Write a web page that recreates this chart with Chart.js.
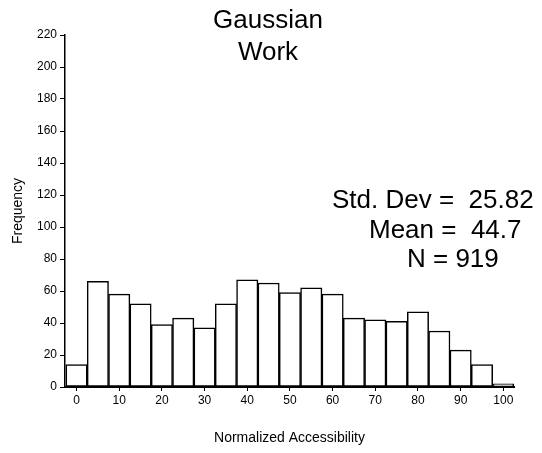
<!DOCTYPE html>
<html>
<head>
<meta charset="utf-8">
<script src="https://cdn.jsdelivr.net/npm/chart.js@4.4.1/dist/chart.umd.min.js"></script>
<style>
  body { margin: 0; background: #fff; }
  #wrap { width: 542px; height: 453px; }
</style>
</head>
<body>
<div id="wrap"><canvas id="histChart" width="542" height="453"></canvas></div>
<script>
// bin centres (width 5) and counts
const binCenters = [0, 5, 10, 15, 20, 25, 30, 35, 40, 45, 50, 55, 60, 65, 70, 75, 80, 85, 90, 95, 100];
const frequencies = [14, 66, 58, 52, 39, 43, 37, 52, 67, 65, 59, 62, 58, 43, 42, 41, 47, 35, 23, 14, 2];
const xTicks = [0, 10, 20, 30, 40, 50, 60, 70, 80, 90, 100];
const titleLines = ['Gaussian', 'Work'];
const statLines = ['Std. Dev =  25.82', 'Mean =  44.7', 'N = 919'];

const FONT = "'Liberation Sans', Arial, sans-serif";

// title and the summary text sit over the plot, SPSS style
const textPlugin = {
    id: 'textPlugin',
    afterDraw(chart) {
        const ctx = chart.ctx;
        ctx.save();
        ctx.fillStyle = '#000';
        ctx.font = '26px ' + FONT;
        ctx.textAlign = 'center';
        ctx.textBaseline = 'alphabetic';
        ctx.fillText(titleLines[0], 268, 28);
        ctx.fillText(titleLines[1], 268, 60);
        ctx.textAlign = 'left';
        ctx.fillText(statLines[0], 332, 208);
        ctx.fillText(statLines[1], 369, 238);
        ctx.fillText(statLines[2], 407, 267);
        ctx.restore();
    }
};

const ctx = document.getElementById('histChart').getContext('2d');
const histChart = new Chart(ctx, {
    type: 'bar',
    data: {
        datasets: [{
            label: 'Frequency',
            data: binCenters.map((c, i) => ({ x: c, y: frequencies[i] })),
            backgroundColor: '#ffffff',
            borderColor: '#000000',
            borderWidth: 1.5,
            borderSkipped: false,
            barPercentage: 1,
            categoryPercentage: 1
        }]
    },
    options: {
        responsive: false,
        animation: false,
        layout: { padding: { top: 35, right: 28, left: 0, bottom: 0 } },
        plugins: {
            legend: { display: false },
            tooltip: { enabled: false }
        },
        scales: {
            x: {
                type: 'linear',
                offset: false,
                min: -2.7,
                max: 102.5,
                afterBuildTicks: (scale) => { scale.ticks = xTicks.map(v => ({ value: v })); },
                afterFit: (scale) => { scale.height = 66; },
                grid: { offset: false, drawOnChartArea: false, drawTicks: true, tickLength: 4, color: '#000', lineWidth: 1 },
                border: { display: true, color: '#000', width: 2 },
                ticks: { color: '#000', font: { family: FONT, size: 12 }, padding: 2, maxRotation: 0 },
                title: {
                    display: true,
                    text: 'Normalized Accessibility',
                    color: '#000',
                    font: { family: FONT, size: 14 },
                    padding: { top: 0, bottom: 6.6 }
                }
            },
            y: {
                min: 0,
                max: 220,
                afterFit: (scale) => { scale.width = 65; },
                grid: { drawOnChartArea: false, drawTicks: true, tickLength: 5, color: '#000', lineWidth: 1 },
                border: { display: true, color: '#000', width: 1.5 },
                ticks: { stepSize: 20, color: '#000', font: { family: FONT, size: 12 }, padding: 3 },
                title: {
                    display: true,
                    text: 'Frequency',
                    color: '#000',
                    font: { family: FONT, size: 14 },
                    padding: { top: 9.6, bottom: 0 }
                }
            }
        }
    },
    plugins: [textPlugin]
});
</script>
</body>
</html>
